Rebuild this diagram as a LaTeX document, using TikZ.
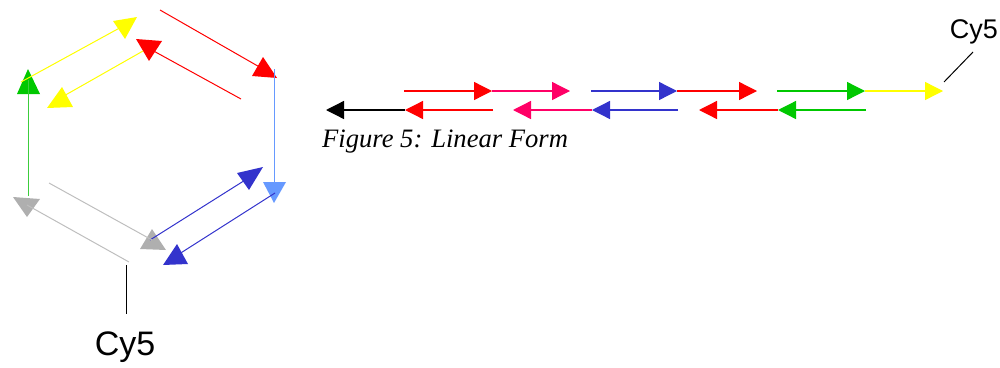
\documentclass[tikz,border=0pt]{standalone}
\usepackage{fontspec}
\setmainfont{Liberation Serif}
\setsansfont{Liberation Sans}
\usetikzlibrary{arrows.meta}
\definecolor{jaune}{RGB}{255,255,0}
\definecolor{rouge}{RGB}{255,0,0}
\definecolor{vert}{RGB}{0,200,0}
\definecolor{vertclair}{RGB}{60,205,60}
\definecolor{bleuclair}{RGB}{102,153,255}
\definecolor{bleu}{RGB}{51,51,204}
\definecolor{gris}{RGB}{175,175,175}
\definecolor{grisclair}{RGB}{190,190,190}
\definecolor{rose}{RGB}{255,0,102}
\definecolor{roseclair}{RGB}{255,40,130}
\begin{document}
\begin{tikzpicture}[x=1pt,y=-1pt]
            \tikzstyle{brin}=[line width=1pt]
            \tikzstyle{fleche}=[line width=1.3pt,-{Triangle[length=18pt,width=18pt]}]
            \tikzstyle{texte}=[inner sep=0pt]
            \useasboundingbox (0,0) rectangle (1000,367);
            % forme circulaire : pointes
            \fill[jaune] (113,21) -- (137,17) -- (125,39) -- cycle;
            \fill[rouge] (136,39) -- (162,41) -- (149,61) -- cycle;
            \fill[jaune] (47,108) -- (73,107) -- (62,87) -- cycle;
            \fill[vert] (17,94) -- (40,94) -- (28,69) -- cycle;
            \fill[rouge] (252,76) -- (277,78) -- (263,57) -- cycle;
            \fill[bleuclair] (263,182) -- (286,182) -- (274,203) -- cycle;
            \fill[bleu] (237,173) -- (263,167) -- (249,190) -- cycle;
            \fill[gris] (140,249) -- (166,250) -- (152,229) -- cycle;
            \fill[bleu] (163,265) -- (188,264) -- (177,244) -- cycle;
            \fill[gris] (13,197) -- (40,199) -- (27,217) -- cycle;
            % forme circulaire : brins
            \draw[brin,jaune] (21,82) -- (125,25);
            \draw[brin,jaune] (143,51) -- (62,97);
            \draw[brin,rouge] (241,99) -- (150,49);
            \draw[brin,rouge] (160,10) -- (263,69);
            \draw[brin,bleuclair] (274,69) -- (274,190);
            \draw[brin,bleu] (150,240) -- (250,177);
            \draw[brin,bleu] (275,193) -- (176,256);
            \draw[brin,grisclair] (49,183) -- (152,240);
            \draw[brin,grisclair] (129,262) -- (27,205);
            \draw[brin,vertclair] (28,196) -- (28,80);
            \node[texte,anchor=base] (cyBas) at (125,355) {\sffamily\fontsize{34}{40}\selectfont Cy5};
            \coordinate (piedBas) at (126,265);
            \draw[brin,black] (piedBas) -- (126,314);
            % forme lineaire
            \draw[fleche,rouge] (404,91) -- (492,91);
            \draw[fleche,roseclair,rose] (492,91) -- (570,91);
            \draw[fleche,bleu] (591,91) -- (677,91);
            \draw[fleche,rouge] (677,91) -- (757,91);
            \draw[fleche,vert] (777,91) -- (865,91);
            \draw[fleche,jaune] (865,91) -- (943,91);
            \draw[fleche,vert] (866,110) -- (778,110);
            \draw[fleche,rouge] (778,110) -- (699,110);
            \draw[fleche,bleu] (678,110) -- (592,110);
            \draw[fleche,rose] (592,110) -- (513,110);
            \draw[fleche,rouge] (493,110) -- (405,110);
            \draw[fleche,black] (405,110) -- (326,110);
            \node[texte,anchor=base west] (legende) at (322,147) {\itshape\fontsize{26.6}{30}\selectfont Figure 5: Linear Form};
            \node[texte,anchor=base east] (cyHaut) at (998,38) {\sffamily\fontsize{27}{32}\selectfont Cy5};
            \coordinate (piedHaut) at (944,82);
            \draw[line width=1pt] (piedHaut) -- (973,52);
\end{tikzpicture}
\end{document}
